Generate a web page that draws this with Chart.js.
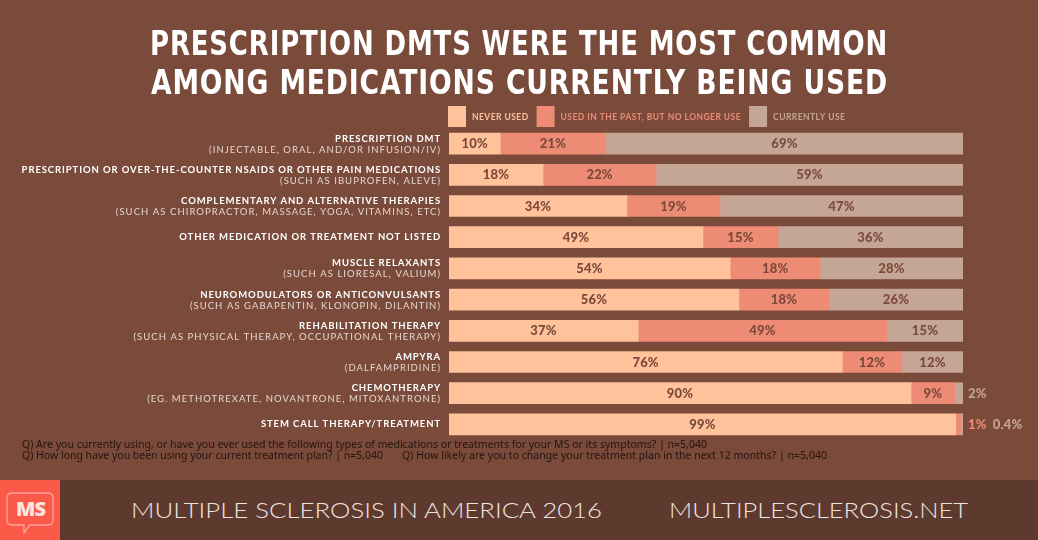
<!DOCTYPE html>
<html><head><meta charset="utf-8">
<script src="https://cdn.jsdelivr.net/npm/chart.js@4/dist/chart.umd.min.js"></script>
<style>
html,body{margin:0;padding:0;background:#7a4a3a;width:1038px;height:540px;overflow:hidden}
#wrap{position:relative;width:1038px;height:540px;background:#7a4a3a}
#c{position:absolute;left:0;top:0}
.t{position:absolute;white-space:nowrap;transform-origin:left top;line-height:1}
.title{font-family:"DejaVu Sans Condensed","DejaVu Sans",sans-serif;font-weight:bold;color:#fff;font-size:34px;letter-spacing:1px}
.note{font-family:"Noto Sans","Open Sans",sans-serif;font-size:11px;color:#261510}
#footer{position:absolute;left:0;top:480px;width:1038px;height:60px;background:#5e3a2e}
#logo{position:absolute;left:0;top:480px;width:60px;height:60px}
.foot{font-family:Lato,"Open Sans",sans-serif;font-weight:300;font-size:22px;color:#ede5e1}
</style></head><body>
<div id="wrap">
<canvas id="c" width="1038" height="540"></canvas>
<div class="t title" id="t1">PRESCRIPTION DMTS WERE THE MOST COMMON</div>
<div class="t title" id="t2">AMONG MEDICATIONS CURRENTLY BEING USED</div>
<div class="t note" id="n1">Q) Are you currently using, or have you ever used the following types of medications or treatments for your MS or its symptoms? | n=5,040</div>
<div class="t note" id="n2">Q) How long have you been using your current treatment plan? | n=5,040</div>
<div class="t note" id="n3">Q) How likely are you to change your treatment plan in the next 12 months? | n=5,040</div>
<div id="footer"></div>
<svg id="logo" width="60" height="60" viewBox="0 0 60 60">
  <rect x="0" y="0" width="60" height="60" fill="#fb5a49"/>
  <path d="M12 13 H48 Q53 13 53 18 V40 Q53 45 48 45 H30 L24 53 L24 45 H12 Q7 45 7 40 V18 Q7 13 12 13 Z" fill="none" stroke="#fca49a" stroke-width="1.3"/>
  <text x="30.5" y="36" text-anchor="middle" font-family="Open Sans, sans-serif" font-weight="800" font-size="20" fill="#fde3df" letter-spacing="-1">MS</text>
</svg>
<div class="t foot" id="f1">MULTIPLE SCLEROSIS IN AMERICA 2016</div>
<div class="t foot" id="f2">MULTIPLESCLEROSIS.NET</div>
</div>
<script>
const categories = [
  "PRESCRIPTION DMT",
  "PRESCRIPTION OR OVER-THE-COUNTER NSAIDS OR OTHER PAIN MEDICATIONS",
  "COMPLEMENTARY AND ALTERNATIVE THERAPIES",
  "OTHER MEDICATION OR TREATMENT NOT LISTED",
  "MUSCLE RELAXANTS",
  "NEUROMODULATORS OR ANTICONVULSANTS",
  "REHABILITATION THERAPY",
  "AMPYRA",
  "CHEMOTHERAPY",
  "STEM CALL THERAPY/TREATMENT"
];
const subLabels = [
  "(INJECTABLE, ORAL, AND/OR INFUSION/IV)",
  "(SUCH AS IBUPROFEN, ALEVE)",
  "(SUCH AS CHIROPRACTOR, MASSAGE, YOGA, VITAMINS, ETC)",
  "",
  "(SUCH AS LIORESAL, VALIUM)",
  "(SUCH AS GABAPENTIN, KLONOPIN, DILANTIN)",
  "(SUCH AS PHYSICAL THERAPY, OCCUPATIONAL THERAPY)",
  "(DALFAMPRIDINE)",
  "(EG. METHOTREXATE, NOVANTRONE, MITOXANTRONE)",
  ""
];
const seriesNames = ["NEVER USED", "USED IN THE PAST, BUT NO LONGER USE", "CURRENTLY USE"];
const neverUsed   = [10, 18.3, 34.6, 49.4, 54.7, 56.4, 36.8, 76.5, 89.9, 98.6];
const pastUse     = [20.5, 22, 18.1, 14.6, 17.5, 17.5, 48.4, 11.6, 8.5, 1.0];
const currentUse  = [69.5, 59.7, 47.3, 36, 27.8, 26.1, 14.8, 11.9, 1.6, 0.4];
const neverText   = ["10%","18%","34%","49%","54%","56%","37%","76%","90%","99%"];
const pastText    = ["21%","22%","19%","15%","18%","18%","49%","12%","9%","1%"];
const currentText = ["69%","59%","47%","36%","28%","26%","15%","12%","2%","0.4%"];

const colors = ["#ffc29b", "#ee8b75", "#c5a596"];
const texts = [neverText, pastText, currentText];
const BG = "#7a4a3a";

const labelPlugin = {
  id: "labels",
  afterDatasetsDraw(chart) {
    const ctx = chart.ctx;
    const area = chart.chartArea;
    const yScale = chart.scales.y;
    ctx.save();
    ctx.textAlign = "right";
    ctx.textBaseline = "middle";
    categories.forEach((cat, i) => {
      const y = yScale.getPixelForValue(i);
      const x = area.left - 8;
      ctx.font = "bold 9.5px Lato, sans-serif";
      ctx.letterSpacing = "0.9px";
      ctx.fillStyle = "#ffffff";
      if (subLabels[i]) {
        ctx.fillText(cat, x, y - 5);
        ctx.font = "9.5px Lato, sans-serif";
        ctx.letterSpacing = "1.05px";
        ctx.fillStyle = "#e6d6ce";
        ctx.fillText(subLabels[i], x, y + 6);
      } else {
        ctx.fillText(cat, x, y);
      }
    });
    ctx.letterSpacing = "0.2px";
    ctx.font = "900 13px Lato, sans-serif";
    ctx.textAlign = "center";
    const outside = categories.map(() => []);
    const ends = categories.map(() => area.left);
    chart.data.datasets.forEach((ds, d) => {
      const meta = chart.getDatasetMeta(d);
      meta.data.forEach((bar, i) => {
        const w = Math.abs(bar.x - bar.base);
        ends[i] = Math.max(ends[i], bar.x);
        if (w > 20) {
          ctx.fillStyle = BG;
          ctx.fillText(texts[d][i], (bar.x + bar.base) / 2, bar.y + 0.5);
        } else {
          outside[i].push({t: texts[d][i], c: colors[d], y: bar.y});
        }
      });
    });
    ctx.textAlign = "left";
    outside.forEach((list, i) => {
      let x = ends[i] + 5;
      list.forEach(o => {
        ctx.fillStyle = o.c;
        ctx.fillText(o.t, x, o.y + 0.5);
        x += ctx.measureText(o.t).width + 6;
      });
    });
    ctx.font = "bold 8.5px Lato, sans-serif";
    ctx.letterSpacing = "0.45px";
    ctx.textBaseline = "middle";
    let lx = area.left - 1;
    const ly = 106;
    seriesNames.forEach((name, d) => {
      ctx.fillStyle = colors[d];
      ctx.fillRect(lx, ly, 18, 21);
      lx += 24;
      ctx.fillText(name, lx, ly + 11);
      lx += ctx.measureText(name).width + 8;
    });
    ctx.restore();
  }
};

new Chart(document.getElementById("c"), {
  type: "bar",
  data: {
    labels: categories,
    datasets: [
      {label: seriesNames[0], data: neverUsed, backgroundColor: colors[0]},
      {label: seriesNames[1], data: pastUse, backgroundColor: colors[1]},
      {label: seriesNames[2], data: currentUse, backgroundColor: colors[2]}
    ]
  },
  options: {
    indexAxis: "y",
    responsive: false,
    animation: false,
    datasets: {bar: {barThickness: 21, borderWidth: 0}},
    layout: {padding: {left: 449, right: 75, top: 128, bottom: 100}},
    scales: {
      x: {stacked: true, min: 0, max: 100, display: false},
      y: {stacked: true, display: false}
    },
    plugins: {legend: {display: false}, tooltip: {enabled: false}}
  },
  plugins: [labelPlugin]
});

function place(id, left, width, centerY) {
  const el = document.getElementById(id);
  const r = el.getBoundingClientRect();
  const s = width / r.width;
  el.style.left = left + "px";
  el.style.top = (centerY - r.height / 2) + "px";
  el.style.transformOrigin = "left center";
  el.style.transform = "scaleX(" + s + ")";
}
place("t1", 150, 738, 43);
place("t2", 151, 737, 82);
place("n1", 22, 685, 443);
place("n2", 22, 361, 454);
place("n3", 402, 425, 454);
place("f1", 131, 471, 510);
place("f2", 669, 299, 510);
</script>
</body></html>
